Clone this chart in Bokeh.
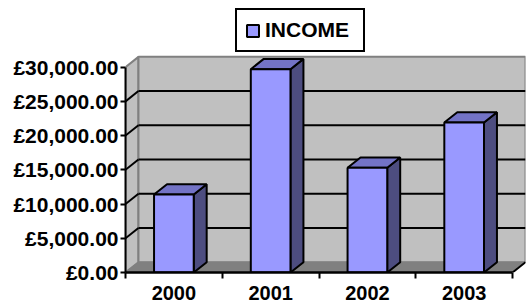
from bokeh.plotting import figure
from bokeh.models import FixedTicker, Legend, LegendItem, Range1d
from bokeh.embed import file_html
from bokeh.resources import INLINE

# ---- data ----
categories = ["2000", "2001", "2002", "2003"]
income = [11400, 29700, 15300, 21900]
y_ticks = [0, 5000, 10000, 15000, 20000, 25000, 30000]
series_name = "INCOME"

# ---- style constants ----
FONT = "Liberation Sans"
DX = 0.134      # depth offset in category units
DY = 1500       # depth offset in value units
BAR_W = 0.41
FRONT = "#9999FF"
TOP = "#7373C6"
SIDE = "#4D4D80"
WALL = "#C0C0C0"
FLOOR = "#808080"

n = len(categories)
centers = [i + 0.5 for i in range(n)]
y_max = y_ticks[-1]

p = figure(width=531, height=303, output_backend="svg", toolbar_location=None,
           x_range=Range1d(0, n + DX), y_range=Range1d(0, 39000),
           min_border_left=125, min_border_right=6, min_border_top=5,
           min_border_bottom=31)
p.outline_line_color = None
p.grid.visible = False
p.background_fill_color = "white"
p.border_fill_color = "white"

# side wall
p.patch([0, DX, DX, 0], [0, DY, y_max + DY, y_max],
        fill_color=WALL, line_color="#808080", line_width=2)
# back wall
p.patch([DX, n + DX, n + DX, DX], [DY, DY, y_max + DY, y_max + DY],
        fill_color=WALL, line_color="#808080", line_width=2)
# floor
p.patch([0, n, n + DX, DX], [0, 0, DY, DY],
        fill_color=FLOOR, line_color="#808080", line_width=1)
p.line([n, n + DX], [0, DY], line_color="black", line_width=2)

# gridlines on back wall and side wall
inner = y_ticks[1:-1]
p.multi_line([[DX, n + DX] for v in inner], [[v + DY, v + DY] for v in inner],
             line_color="black", line_width=2)
p.multi_line([[0, DX] for v in inner], [[v, v + DY] for v in inner],
             line_color="black", line_width=2)

# bars: side, top, front
right = [c + BAR_W / 2 for c in centers]
left = [c - BAR_W / 2 for c in centers]
p.patches([[r, r + DX, r + DX, r] for r in right],
          [[0, DY, v + DY, v] for v in income],
          fill_color=SIDE, line_color="black", line_width=2)
p.patches([[l, r, r + DX, l + DX] for l, r in zip(left, right)],
          [[v, v, v + DY, v + DY] for v in income],
          fill_color=TOP, line_color="black", line_width=2)
front = p.vbar(x=centers, top=income, bottom=0, width=BAR_W,
               fill_color=FRONT, line_color="black", line_width=2)

# axes
yax = p.yaxis[0]
yax.ticker = FixedTicker(ticks=y_ticks)
yax.major_label_overrides = {v: "£{:,.2f}".format(v) for v in y_ticks}
yax.bounds = (0, y_max)
yax.axis_line_width = 2
yax.major_tick_out = 5
yax.major_tick_in = 0
yax.major_tick_line_width = 2
yax.minor_tick_line_color = None
yax.major_label_standoff = 2
yax.major_label_text_font = FONT
yax.major_label_text_font_style = "bold"
yax.major_label_text_font_size = "21px"
yax.major_label_text_color = "black"

xax = p.xaxis[0]
xax.ticker = FixedTicker(ticks=centers, minor_ticks=list(range(n + 1)))
xax.major_label_overrides = {c: lab for c, lab in zip(centers, categories)}
xax.bounds = (0, n)
xax.axis_line_width = 2.5
xax.major_tick_out = 0
xax.major_tick_in = 0
xax.minor_tick_out = 6
xax.minor_tick_in = 0
xax.minor_tick_line_width = 2
xax.minor_tick_line_color = "black"
xax.major_label_standoff = 7
xax.major_label_text_font = FONT
xax.major_label_text_font_style = "bold"
xax.major_label_text_font_size = "20px"
xax.major_label_text_color = "black"

legend = Legend(items=[LegendItem(label=series_name, renderers=[front])],
                location=(110, 219.7))
legend.border_line_color = "black"
legend.border_line_alpha = 1
legend.border_line_width = 2
legend.background_fill_color = "white"
legend.background_fill_alpha = 1
legend.label_text_font = FONT
legend.label_text_font_style = "bold"
legend.label_text_font_size = "21px"
legend.label_text_color = "black"
legend.label_width = 90
legend.label_height = 24
legend.glyph_width = 15
legend.glyph_height = 15
legend.label_standoff = 5
legend.padding = 8
legend.margin = 0
legend.spacing = 0
p.add_layout(legend)

open("out.html", "w").write(file_html(p, INLINE))
